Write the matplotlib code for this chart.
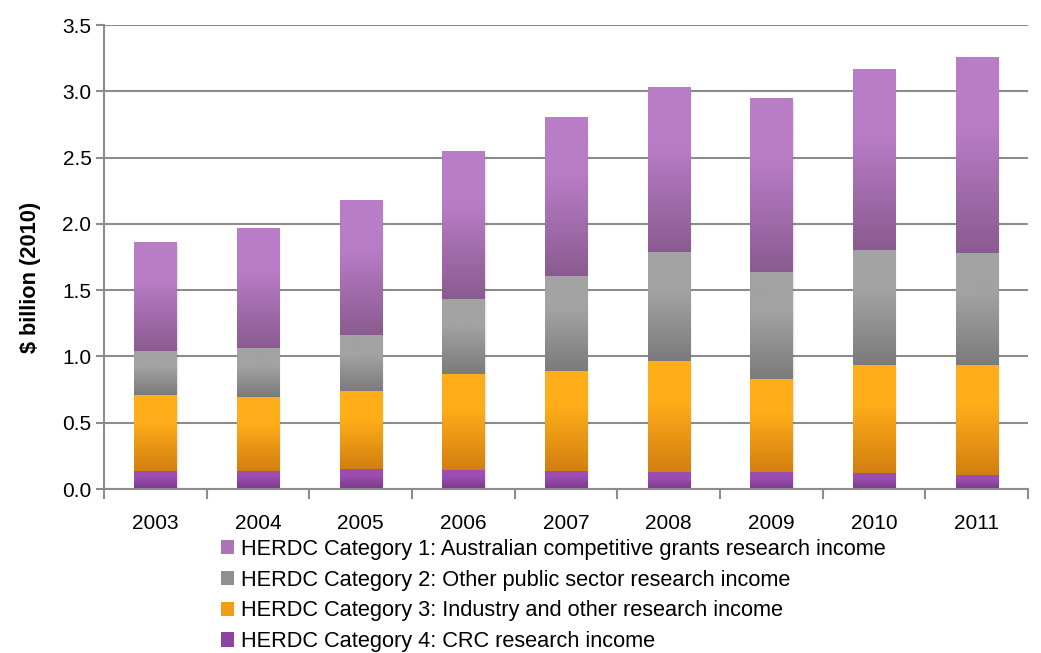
import numpy as np
import matplotlib
matplotlib.use("Agg")
import matplotlib.pyplot as plt
from matplotlib.colors import LinearSegmentedColormap
from matplotlib.patches import Patch

years = ["2003", "2004", "2005", "2006", "2007", "2008", "2009", "2010", "2011"]

# research income by HERDC category, $ billion (2010)
cat4_crc = [0.136, 0.136, 0.151, 0.143, 0.136, 0.128, 0.128, 0.121, 0.106]
cat3_industry = [0.573, 0.560, 0.588, 0.724, 0.754, 0.837, 0.702, 0.814, 0.829]
cat2_public = [0.332, 0.368, 0.423, 0.566, 0.717, 0.823, 0.807, 0.868, 0.845]
cat1_grants = [0.822, 0.905, 1.018, 1.109, 1.192, 1.244, 1.305, 1.365, 1.471]

labels = [
    "HERDC Category 1: Australian competitive grants research income",
    "HERDC Category 2: Other public sector research income",
    "HERDC Category 3: Industry and other research income",
    "HERDC Category 4: CRC research income",
]

# (bottom colour, top colour) for the vertical gradient of each series
grads = {
    "cat4": ("#7a3a88", "#9d4db2"),
    "cat3": ("#d37f10", "#ffae1a"),
    "cat2": ("#7b7b7b", "#a3a3a3"),
    "cat1": ("#8a5b90", "#b97dc7"),
}
legend_colours = ["#ac75b9", "#8f8f8f", "#f39c18", "#8c44a0"]

plt.rcParams["font.family"] = ["Liberation Sans", "DejaVu Sans"]

fig = plt.figure(figsize=(10.41, 6.53), dpi=100)
ax = fig.add_axes([0.0999, 0.2511, 0.8876, 0.7106])

width = 0.41
x = np.arange(len(years))


def gradient_bar(ax, xc, bottom, height, colours):
    lo, hi = colours
    cmap = LinearSegmentedColormap.from_list("g", [(0, lo), (0.65, hi), (1, hi)])
    grad = np.linspace(0, 1, 128).reshape(-1, 1)
    ax.imshow(grad, extent=[xc - width / 2, xc + width / 2, bottom, bottom + height],
              origin="lower", aspect="auto", cmap=cmap, zorder=3, interpolation="bilinear")


series = [("cat4", cat4_crc), ("cat3", cat3_industry), ("cat2", cat2_public), ("cat1", cat1_grants)]
bottoms = np.zeros(len(years))
for key, vals in series:
    for i, v in enumerate(vals):
        # soft drop shadow behind each segment
        for off, a in [(0.012, 0.06), (0.022, 0.04)]:
            ax.add_patch(plt.Rectangle((x[i] - width / 2 + off, bottoms[i] - off), width, v,
                                       color="black", alpha=a, lw=0, zorder=2))
        gradient_bar(ax, x[i], bottoms[i], v, grads[key])
    bottoms += np.array(vals)

ax.set_xlim(-0.5, len(years) - 0.5)
ax.set_ylim(0, 3.5)
ax.set_yticks(np.arange(0, 3.51, 0.5))
ax.set_yticklabels([f"{v:.1f}" for v in np.arange(0, 3.51, 0.5)])
ax.set_xticks(x)
ax.set_xticklabels(years)
ax.set_xticks(np.arange(-0.5, len(years)), minor=True)

ax.grid(axis="y", color="#8c8c8c", lw=1.5, zorder=0)
ax.set_axisbelow(True)
for s in ["top", "right"]:
    ax.spines[s].set_visible(False)
for s in ["left", "bottom"]:
    ax.spines[s].set_color("#8c8c8c")
    ax.spines[s].set_linewidth(1.5)
ax.spines["bottom"].set_zorder(4)

ax.tick_params(axis="x", which="major", length=0, labelsize=15, pad=18)
ax.tick_params(axis="x", which="minor", length=7, width=1.5, color="#8c8c8c", direction="out")
ax.tick_params(axis="y", length=6, width=1.5, color="#8c8c8c", labelsize=15, pad=3)

ax.set_ylabel("$ billion (2010)", fontsize=15.7, fontweight="bold")
ax.yaxis.set_label_coords(-0.068, 0.457)

handles = [Patch(facecolor=c, edgecolor="none") for c in legend_colours]
fig.legend(handles, labels, loc="upper left", bbox_to_anchor=(0.212, 0.175),
           frameon=False, fontsize=15.7, handlelength=0.62, handleheight=0.62,
           handletextpad=0.3, labelspacing=0.45, borderaxespad=0, borderpad=0)

fig.savefig("out.png", dpi=100)
